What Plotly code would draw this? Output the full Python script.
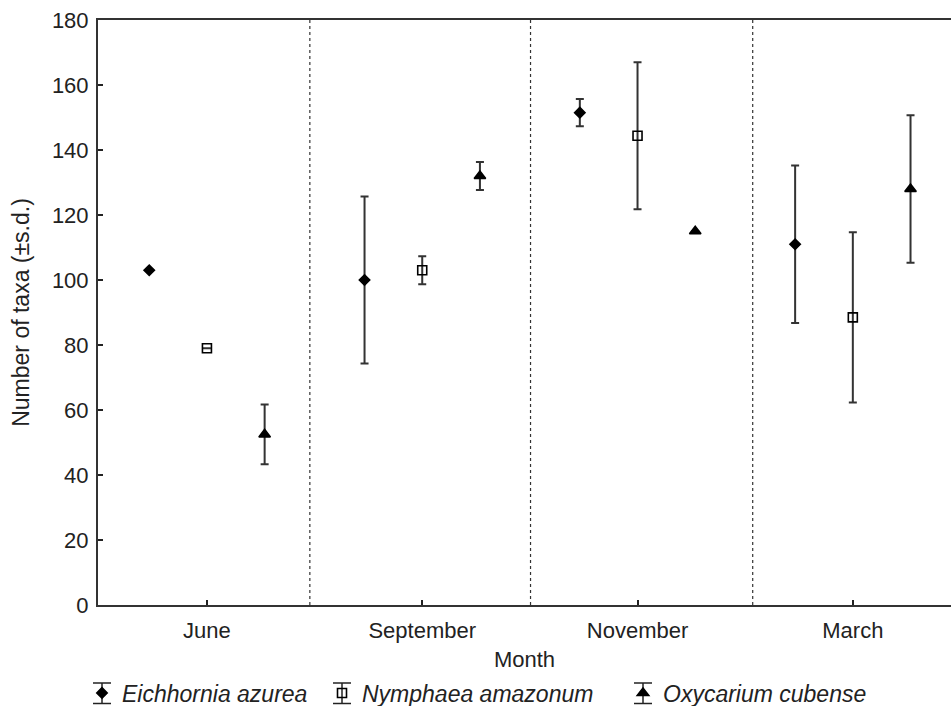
import plotly.graph_objects as go

months = ["June", "September", "November", "March"]
species = ["Eichhornia azurea", "Nymphaea amazonum", "Oxycarium cubense"]

eich_mean = [103, 100, 151.5, 111]
eich_sd = [0, 25.7, 4.2, 24.2]
nymph_mean = [79, 103, 144.4, 88.5]
nymph_sd = [0, 4.3, 22.6, 26.2]
oxy_mean = [52.5, 132, 115, 128]
oxy_sd = [9.2, 4.3, 0, 22.7]

means = [eich_mean, nymph_mean, oxy_mean]
sds = [eich_sd, nymph_sd, oxy_sd]
symbols = ["diamond", "square-open", "triangle-up"]
sizes = [8, 9, 10]
offsets = [-0.268, 0.0, 0.268]
dividers = [0.478, 1.503, 2.535]

# layout geometry (pixels)
W, H = 951, 706
ML, MR, MT, MB = 98, 0, 20, 101
PW, PH = W - ML - MR, H - MT - MB
legend_px = [82, 322, 623]      # left edge of each legend entry
legend_y_px = 693               # vertical centre of legend row

FONT = "Liberation Sans, Arial, sans-serif"
legend_ids = ["legend", "legend2", "legend3"]

fig = go.Figure()
for i, sp in enumerate(species):
    xs = [k + offsets[i] for k in range(len(months))]
    fig.add_trace(go.Scatter(
        x=xs, y=means[i], mode="markers", name=sp, legend=legend_ids[i],
        marker=dict(symbol=symbols[i], size=sizes[i], color="black",
                    line=dict(color="black", width=1.6)),
        error_y=dict(type="data", array=sds[i], visible=True,
                     color="#333333", thickness=2, width=4),
    ))

for d in dividers:
    fig.add_shape(type="line", xref="x", yref="paper", x0=d, x1=d, y0=0, y1=1,
                  line=dict(color="#333333", width=1.2, dash="dot"))

def px_x(p):
    return (p - ML) / PW

def px_y(p):
    return (H - MB - p) / PH

legends = {}
for i, lid in enumerate(legend_ids):
    legends[lid] = dict(orientation="h", x=px_x(legend_px[i]), y=px_y(legend_y_px),
                        xanchor="left", yanchor="middle",
                        font=dict(family=FONT, size=23, color="#222222", style="italic"),
                        bgcolor="rgba(0,0,0,0)", itemclick=False, itemdoubleclick=False)
    # error-bar glyph behind the legend symbol
    cx = legend_px[i] + 20
    top, bot, half = legend_y_px - 10, legend_y_px + 10.5, 9
    fig.add_shape(type="line", xref="paper", yref="paper",
                  x0=px_x(cx), x1=px_x(cx), y0=px_y(top), y1=px_y(bot),
                  line=dict(color="#222222", width=1.5))
    for yy in (top, bot):
        fig.add_shape(type="line", xref="paper", yref="paper",
                      x0=px_x(cx - half), x1=px_x(cx + half), y0=px_y(yy), y1=px_y(yy),
                      line=dict(color="#222222", width=1.5))

fig.update_layout(
    width=W, height=H,
    margin=dict(l=ML, r=MR, t=MT, b=MB, autoexpand=False),
    plot_bgcolor="white", paper_bgcolor="white",
    font=dict(family=FONT, size=23, color="#222222"),
    showlegend=True,
    xaxis=dict(range=[-0.506, 3.456], tickmode="array",
               tickvals=list(range(len(months))), ticktext=months,
               ticks="inside", ticklen=5, tickcolor="#222222", tickwidth=1.5,
               showline=True, linecolor="#333333", linewidth=2, mirror=True,
               showgrid=False, zeroline=False, automargin=False,
               ticklabelstandoff=5,
               title=dict(text="Month", standoff=9, font=dict(size=22)),
               tickfont=dict(size=22)),
    yaxis=dict(range=[0, 180], dtick=20, ticks="inside", ticklen=5,
               tickcolor="#222222", tickwidth=1.5,
               showline=True, linecolor="#333333", linewidth=2,
               showgrid=False, zeroline=False, automargin=False,
               ticklabelstandoff=3,
               title=dict(text="Number of taxa (±s.d.)", standoff=16, font=dict(size=23)),
               tickfont=dict(size=22)),
    **legends,
)

fig.write_html("out.html", config={"displayModeBar": False},
               post_script="document.body.style.margin='0';document.body.style.overflow='hidden';")
